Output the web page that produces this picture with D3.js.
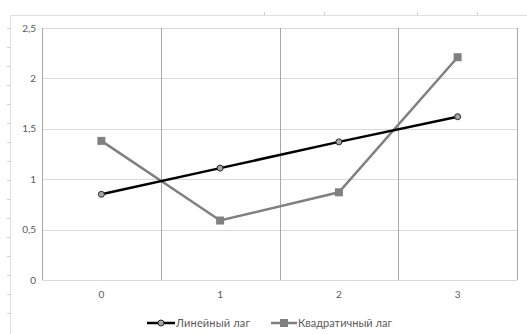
<!DOCTYPE html>
<html><head><meta charset="utf-8">
<script src="https://cdn.jsdelivr.net/npm/d3@7"></script>
<style>body{margin:0;background:#fff}svg{display:block}text{font-family:Lato,"Open Sans",sans-serif;fill:#595959}</style>
</head><body><svg id="c" width="527" height="334"></svg>
<script>
const categories = ["0","1","2","3"];
const linearLag = [0.85, 1.11, 1.37, 1.62];
const quadraticLag = [1.38, 0.59, 0.87, 2.21];
const yTicks = [0, 0.5, 1, 1.5, 2, 2.5];
const seriesNames = ["Линейный лаг", "Квадратичный лаг"];
const frameTicksLeft = d3.range(16);
const frameTicksTop = [264, 324, 417, 477];

const svg = d3.select("#c");
const m = {l:42, r:517, t:28, b:280};
const x = d3.scaleBand().domain(categories).range([m.l, m.r]);
const y = d3.scaleLinear().domain([0, 2.5]).range([m.b, m.t]);
const fmt = d => String(d).replace(".", ",");

// outer faint frame
svg.append("line").attr("x1",10.5).attr("x2",527).attr("y1",15.5).attr("y2",15.5).attr("stroke","#e0e0e0");
svg.append("line").attr("x1",10.5).attr("x2",10.5).attr("y1",15.5).attr("y2",334).attr("stroke","#e0e0e0");
svg.selectAll(".ftl").data(frameTicksLeft).enter().append("line")
  .attr("x1",7).attr("x2",10).attr("y1",d=>28.5+d*19).attr("y2",d=>28.5+d*19).attr("stroke","#d0d0d0");
svg.selectAll(".ftt").data(frameTicksTop).enter().append("line")
  .attr("x1",d=>d+0.5).attr("x2",d=>d+0.5).attr("y1",12).attr("y2",15).attr("stroke","#d0d0d0");

// horizontal grid
svg.selectAll(".hg").data(yTicks).enter().append("line")
  .attr("x1",m.l).attr("x2",m.r).attr("y1",d=>Math.round(y(d))+0.5).attr("y2",d=>Math.round(y(d))+0.5)
  .attr("stroke","#d9d9d9");
// vertical grid (category boundaries)
const vb = categories.slice(1).map(c=>x(c)).concat([m.r]);
svg.selectAll(".vg").data(vb).enter().append("line")
  .attr("x1",d=>Math.round(d)+0.5).attr("x2",d=>Math.round(d)+0.5).attr("y1",m.t).attr("y2",m.b)
  .attr("stroke","#a6a6a6");
svg.append("line").attr("x1",m.l+0.5).attr("x2",m.l+0.5).attr("y1",m.t).attr("y2",m.b).attr("stroke","#a6a6a6");

// y labels
svg.selectAll(".yl").data(yTicks).enter().append("text")
  .attr("x",36).attr("y",d=>y(d)+3.5).attr("text-anchor","end").attr("font-size",10).text(fmt);
// x labels
svg.selectAll(".xl").data(categories).enter().append("text")
  .attr("x",d=>x(d)+x.bandwidth()/2).attr("y",298).attr("text-anchor","middle").attr("font-size",10).text(d=>d);

const cx = (d,i)=>x(categories[i])+x.bandwidth()/2;
const line = d3.line().x(cx).y(d=>y(d));

svg.append("path").datum(quadraticLag).attr("d",line).attr("fill","none").attr("stroke","#808080").attr("stroke-width",2.5);
svg.selectAll(".qm").data(quadraticLag).enter().append("rect")
  .attr("x",(d,i)=>cx(d,i)-4).attr("y",d=>y(d)-4).attr("width",8).attr("height",8).attr("fill","#808080");

svg.append("path").datum(linearLag).attr("d",line).attr("fill","none").attr("stroke","#000").attr("stroke-width",2.5);
svg.selectAll(".lm").data(linearLag).enter().append("circle")
  .attr("cx",cx).attr("cy",d=>y(d)).attr("r",3).attr("fill","#a6a6a6").attr("stroke","#262626").attr("stroke-width",1);

// legend
const ly = 323;
svg.append("line").attr("x1",147).attr("x2",175).attr("y1",ly).attr("y2",ly).attr("stroke","#000").attr("stroke-width",2.5);
svg.append("circle").attr("cx",161).attr("cy",ly).attr("r",3).attr("fill","#a6a6a6").attr("stroke","#262626");
svg.append("text").attr("x",176).attr("y",ly+4).attr("font-size",11).attr("textLength",74).text(seriesNames[0]);
svg.append("line").attr("x1",271).attr("x2",297).attr("y1",ly).attr("y2",ly).attr("stroke","#808080").attr("stroke-width",2.5);
svg.append("rect").attr("x",280).attr("y",ly-4).attr("width",8).attr("height",8).attr("fill","#808080");
svg.append("text").attr("x",298).attr("y",ly+4).attr("font-size",11).attr("textLength",94).text(seriesNames[1]);
</script></body></html>
